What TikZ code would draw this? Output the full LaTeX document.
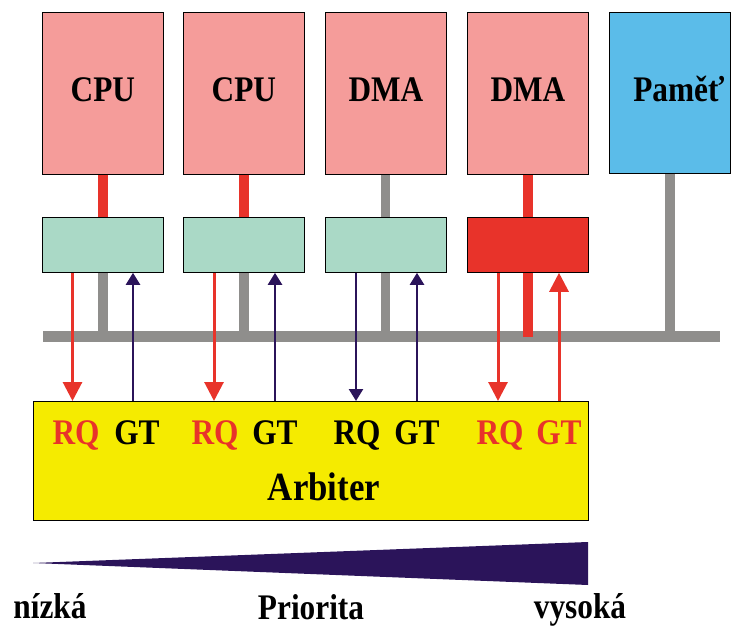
\documentclass[tikz,border=0pt]{standalone}
\usepackage{fontspec}
\setmainfont{Liberation Serif}
\newfontfamily\cond[FakeStretch=0.87]{Liberation Serif Bold}
\usetikzlibrary{arrows.meta}
\definecolor{pinkc}{HTML}{F59C9A}
\definecolor{greenc}{HTML}{AAD9C6}
\definecolor{redc}{HTML}{E8332A}
\definecolor{bluec}{HTML}{5BBCE9}
\definecolor{grayc}{HTML}{8F8E8C}
\definecolor{yellowc}{HTML}{F5EB00}
\definecolor{navyc}{HTML}{2B145A}
\tikzset{
  box/.style={draw=black, line width=0.8pt, inner sep=0pt, anchor=north west},
  unitbox/.style={box, fill=pinkc, minimum width=121pt, minimum height=162pt,
    font=\cond\fontsize{36}{40}\selectfont},
  ifbox/.style={box, fill=greenc, minimum width=121pt, minimum height=55pt},
  busline/.style={draw=grayc, line width=10pt},
  redbar/.style={draw=redc, line width=10.5pt},
  rqarrow/.style={draw=redc, line width=3pt, -{Triangle[length=19pt,width=19pt]}},
  navyarrow/.style={draw=navyc, line width=2.4pt, -{Triangle[length=12pt,width=14pt]}},
  sig/.style={anchor=base, inner sep=1pt, font=\cond\fontsize{36}{40}\selectfont},
  bottomtxt/.style={anchor=base, inner sep=1pt, font=\cond\fontsize{36}{40}\selectfont},
}
\begin{document}
\begin{tikzpicture}[x=1pt,y=-1pt]
\useasboundingbox (0,0) rectangle (736,628);
% top units
\node[unitbox] (cpu1) at (42,12) {\raisebox{8pt}{CPU}};
\node[unitbox] (cpu2) at (183,12) {\raisebox{8pt}{CPU}};
\node[unitbox] (dma1) at (325,12) {\raisebox{8pt}{DMA}};
\node[unitbox] (dma2) at (467,12) {\raisebox{8pt}{DMA}};
\node[unitbox, fill=bluec, minimum width=121pt, minimum height=161pt] (mem) at (609,12) {\raisebox{8pt}{\hspace{18pt}Paměť}};
% interface boxes
\node[ifbox] (if1) at (42,217) {};
\node[ifbox] (if2) at (183,217) {};
\node[ifbox] (if3) at (325,217) {};
\node[ifbox, fill=redc] (if4) at (467,217) {};
% arbiter
\node[box, fill=yellowc, minimum width=555pt, minimum height=119pt] (arb) at (33,401) {};
% bus
\coordinate (busL) at (43,336.5);
\coordinate (busR) at (720,336.5);
\draw[busline, line width=11pt] (busL) -- (busR);
% unit to interface
\draw[redbar] (cpu1.south) -- (if1.north);
\draw[redbar] (cpu2.south) -- (if2.north);
\draw[busline, line width=9pt] (dma1.south) -- (if3.north);
\draw[redbar, line width=10pt] (dma2.south) -- (if4.north);
% interface to bus
\draw[busline] (if1.south) -- (if1.south |- busL);
\draw[busline] (if2.south) -- (if2.south |- busL);
\draw[busline, line width=9pt] (if3.south) -- (if3.south |- busL);
\draw[redbar, line width=10pt] (if4.south) -- (if4.south |- busL);
\draw[busline] (mem.south) -- (mem.south |- busL);
% signal columns
\coordinate (r1) at (72.5,0);
\coordinate (g1) at (133,0);
\coordinate (r2) at (214,0);
\coordinate (g2) at (275,0);
\coordinate (r3) at (356,0);
\coordinate (g3) at (417,0);
\coordinate (r4) at (498,0);
\coordinate (g4) at (559,0);
\draw[rqarrow] (if1.south -| r1) -- (arb.north -| r1);
\draw[navyarrow] (arb.north -| g1) -- (if1.south -| g1);
\draw[rqarrow] (if2.south -| r2) -- (arb.north -| r2);
\draw[navyarrow] (arb.north -| g2) -- (if2.south -| g2);
\draw[navyarrow] (if3.south -| r3) -- (arb.north -| r3);
\draw[navyarrow] (arb.north -| g3) -- (if3.south -| g3);
\draw[rqarrow] (if4.south -| r4) -- (arb.north -| r4);
\draw[rqarrow] (arb.north -| g4) -- (if4.south -| g4);
% labels in arbiter
\node[sig, text=redc] (t1) at (76,444) {RQ};
\node[sig] (t2) at (137,444) {GT};
\node[sig, text=redc] (t3) at (215,444) {RQ};
\node[sig] (t4) at (275,444) {GT};
\node[sig] (t5) at (357,444) {RQ};
\node[sig] (t6) at (417,444) {GT};
\node[sig, text=redc] (t7) at (500,444) {RQ};
\node[sig, text=redc] (t8) at (559,444) {GT};
\node[anchor=base, inner sep=1pt, font=\cond\fontsize{40}{44}\selectfont] (arbt) at (324,500) {Arbiter};
% priority wedge
\fill[navyc] (33,563) -- (588,542) -- (588,585) -- cycle;
\node[bottomtxt] (low) at (50,618) {nízká};
\node[bottomtxt] (prio) at (311,619) {Priorita};
\node[bottomtxt] (high) at (580,618) {vysoká};
\end{tikzpicture}
\end{document}
